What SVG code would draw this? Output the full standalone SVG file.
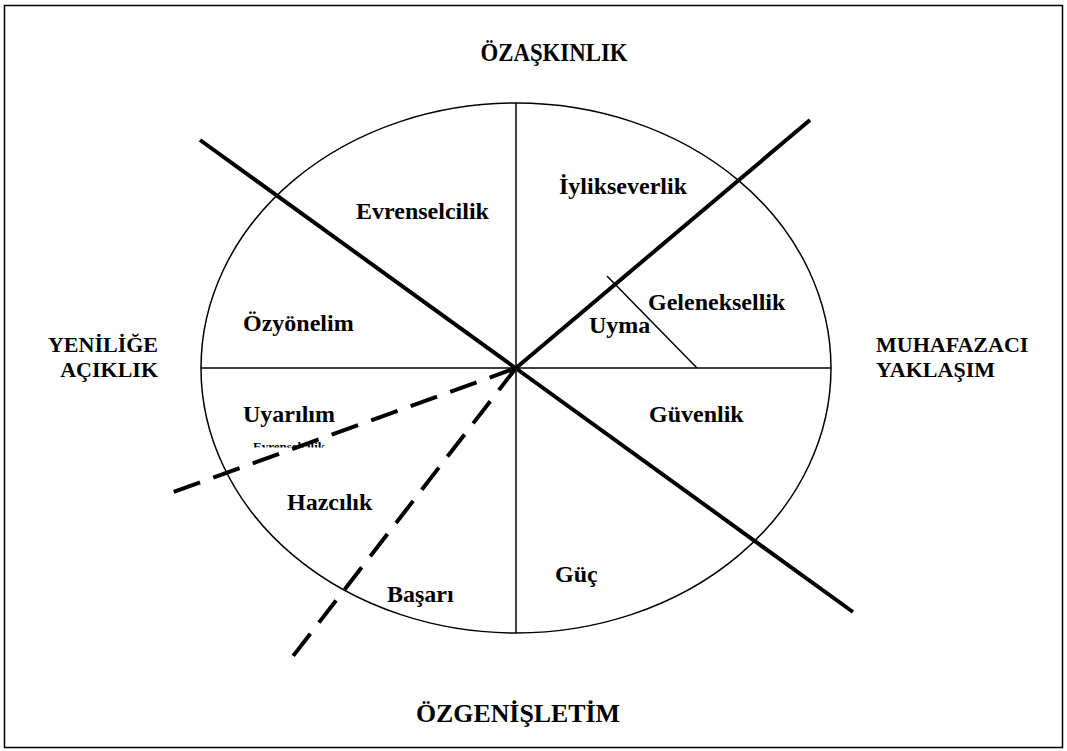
<svg xmlns="http://www.w3.org/2000/svg" width="1067" height="751" viewBox="0 0 1067 751">
<style>
.t{font-family:"Liberation Serif","Times New Roman",serif;font-weight:bold;fill:#000}
.in{font-size:24px}
.side{font-size:22px}
.thin{stroke:#000;stroke-width:1.5;fill:none}
.thick{stroke:#000;stroke-width:4;fill:none}
.dash{stroke:#000;stroke-width:4;fill:none;stroke-dasharray:28 14}
</style>
<defs>
<clipPath id="smallclip"><rect x="240" y="430" width="100" height="17.5"/></clipPath>
</defs>
<rect x="4.5" y="5.5" width="1058" height="742" fill="#fff" stroke="#000" stroke-width="1.5"/>
<g id="wheel">
<ellipse cx="516" cy="368" rx="315" ry="265" class="thin"/>
</g>
<g id="n-uyarilim"><text class="t in" x="243" y="422">Uyarılım</text>
<text class="t" x="253" y="451" font-size="13" clip-path="url(#smallclip)">Evrenselcilik</text></g>
<g id="connectors">
<line x1="201" y1="368" x2="831" y2="368" class="thin"/>
<line x1="516" y1="103" x2="516" y2="633" class="thin"/>
<line x1="607" y1="276" x2="697" y2="368" class="thin"/>
<line x1="200" y1="140" x2="853" y2="612" class="thick"/>
<line x1="516" y1="368" x2="810" y2="120" class="thick"/>
<line x1="516" y1="368" x2="168" y2="494" class="dash"/>
<line x1="516" y1="368" x2="290" y2="660" class="dash"/>
</g>
<g id="axis-labels">
<text class="t" x="554" y="61" text-anchor="middle" font-size="25" textLength="147" lengthAdjust="spacingAndGlyphs">ÖZAŞKINLIK</text>
<text class="t" x="518" y="722" text-anchor="middle" font-size="26" textLength="204" lengthAdjust="spacingAndGlyphs">ÖZGENİŞLETİM</text>
<text class="t side" x="158" y="352" text-anchor="end">YENİLİĞE</text>
<text class="t side" x="158" y="377" text-anchor="end">AÇIKLIK</text>
<text class="t side" x="876" y="352">MUHAFAZACI</text>
<text class="t side" x="876" y="377">YAKLAŞIM</text>
</g>
<g id="n-evrenselcilik"><text class="t in" x="356" y="219">Evrenselcilik</text></g>
<g id="n-iylikseverlik"><text class="t in" x="559" y="194">İylikseverlik</text></g>
<g id="n-geleneksellik"><text class="t in" x="648" y="310">Geleneksellik</text></g>
<g id="n-uyma"><text class="t in" x="589" y="333">Uyma</text></g>
<g id="n-ozyonelim"><text class="t in" x="243" y="331">Özyönelim</text></g>
<g id="n-guvenlik"><text class="t in" x="649" y="422">Güvenlik</text></g>
<g id="n-hazcilik"><text class="t in" x="287" y="510">Hazcılık</text></g>
<g id="n-basari"><text class="t in" x="387" y="602">Başarı</text></g>
<g id="n-guc"><text class="t in" x="555" y="582">Güç</text></g>
</svg>
